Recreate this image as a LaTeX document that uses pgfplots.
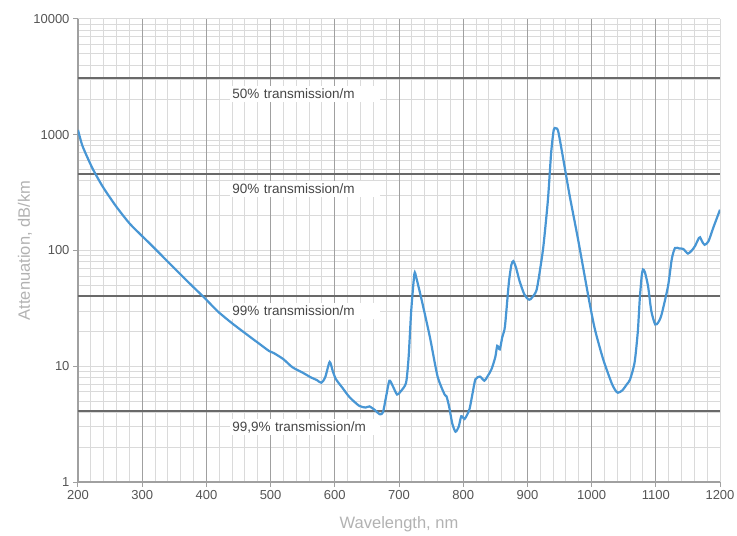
\documentclass[border=0pt]{standalone}
\usepackage{fontspec}
\setmainfont{Liberation Sans}
\usepackage{pgfplots}
\pgfplotsset{compat=1.18}
\definecolor{curve}{RGB}{72,150,212}
\definecolor{axisgray}{RGB}{160,160,160}
\definecolor{gridminor}{RGB}{218,218,218}
\definecolor{gridmajor}{RGB}{160,160,160}
\definecolor{refgray}{RGB}{105,105,105}
\definecolor{ticktext}{RGB}{85,85,85}
\definecolor{labelgray}{RGB}{178,178,178}
\definecolor{annot}{RGB}{70,70,70}
\begin{document}
\begin{tikzpicture}[x=1pt,y=1pt]
\begin{axis}[
  at={(0,0)}, anchor=south west,
  scale only axis, width=642pt, height=463pt,
  xmin=200, xmax=1200, ymode=log, ymin=1, ymax=10000,
  axis x line*=bottom, axis y line*=left,
  axis line style={draw=axisgray, line width=2.5pt, -},
  xtick={200,300,...,1200}, minor x tick num=4,
  ytick={1,10,100,1000,10000}, yticklabels={1,10,100,1000,10000},
  grid=both,
  major grid style={draw=gridminor, line width=1pt},
  minor grid style={draw=gridminor, line width=1pt},
  tick style={draw=axisgray, line width=1pt},
  major tick length=5pt, minor tick length=0pt,
  tick align=outside,
  ticklabel style={font=\fontsize{13}{15}\selectfont, text=ticktext},
  /pgf/number format/assume math mode=true,
  /pgf/number format/1000 sep={},
  extra x ticks={300,400,...,1100}, extra x tick labels={},
  extra x tick style={grid=major, major grid style={draw=gridmajor, line width=1pt}},
  xlabel={Wavelength, nm}, ylabel={Attenuation, dB/km},
  label style={font=\fontsize{16.5}{18}\selectfont, text=labelgray},
  xlabel style={at={(axis description cs:0.5,-0.0907)}, anchor=center},
  ylabel style={at={(axis description cs:-0.0825,0.5)}, anchor=center},
]
\addplot[refgray, line width=1.5pt] coordinates {(200,3100) (1200,3100)};
\addplot[refgray, line width=1.5pt] coordinates {(200,460) (1200,460)};
\addplot[refgray, line width=1.5pt] coordinates {(200,40.5) (1200,40.5)};
\addplot[refgray, line width=1.5pt] coordinates {(200,4.1) (1200,4.1)};
\node[anchor=west, fill=white, inner sep=0pt, text width=150pt, minimum height=16pt, yshift=-16pt, text=annot, font=\fontsize{13.5}{15}\selectfont] at (axis cs:437,3100) {\hspace{2pt}50\% transmission/m};
\node[anchor=west, fill=white, inner sep=0pt, text width=150pt, minimum height=16pt, yshift=-15pt, text=annot, font=\fontsize{13.5}{15}\selectfont] at (axis cs:437,460) {\hspace{2pt}90\% transmission/m};
\node[anchor=west, fill=white, inner sep=0pt, text width=150pt, minimum height=16pt, yshift=-15pt, text=annot, font=\fontsize{13.5}{15}\selectfont] at (axis cs:437,40.5) {\hspace{2pt}99\% transmission/m};
\node[anchor=west, fill=white, inner sep=0pt, text width=150pt, minimum height=16pt, yshift=-16pt, text=annot, font=\fontsize{13.5}{15}\selectfont] at (axis cs:437,4.1) {\hspace{2pt}99,9\% transmission/m};
\addplot[curve, line width=2.2pt, smooth, tension=0.4] coordinates {
(200,1100) (207,800) (222,520) (238,360) (259,242) (280,172) (300,133) (311,116)
(342,78) (373,52.5) (397,39) (412,32) (420,29) (440,23.5) (462,19) (480,16)
(498,13.5) (505,13) (520,11.5) (534,9.8) (550,8.8) (563,8.0) (572,7.6) (579,7.2)
(585,8) (592,10.9) (597,9) (602,7.7) (612,6.5) (623,5.4) (638,4.55) (648,4.4)
(654,4.5) (662,4.2) (670,3.85) (675,4.0) (680,5.5) (685,7.5) (690,6.8) (697,5.7)
(703,6.1) (711,7.2) (715,12) (719,30) (724,63) (727,58) (735,38) (748,18)
(760,8.2) (771,5.7) (774,5.5) (778,4.5) (783,3.2) (788,2.72) (793,3.0) (797,3.7)
(802,3.5) (806,3.8) (810,4.3) (815,6) (819,7.7) (826,8.15) (833,7.5) (838,8.2)
(844,9.4) (850,12) (853,15) (857,14) (861,18) (865,22) (871,52) (875,75)
(878,81) (882,72) (888,54) (895,42) (901,38) (905,38) (914,45) (920,70)
(925,110) (932,275) (937,700) (941,1100) (944,1140) (948,1070) (956,610) (966,294)
(979,124) (995,40) (1005,21) (1018,11.5) (1031,7.2) (1037,6.2) (1041,5.9) (1048,6.2)
(1055,7) (1060,7.7) (1067,10.8) (1072,20) (1075,38) (1078,60) (1080,68.5) (1083,65)
(1088,49) (1093,30) (1099,23) (1104,24) (1109,28) (1119,49) (1125,85) (1130,105)
(1137,104) (1143,103) (1150,94) (1156,100) (1161,109) (1167,128) (1169,130) (1172,120)
(1176,112) (1182,120) (1190,160) (1200,225)
};
\end{axis}
\pgfresetboundingbox
\path (-78pt,-54pt) rectangle (659pt,482pt);
\end{tikzpicture}
\end{document}
